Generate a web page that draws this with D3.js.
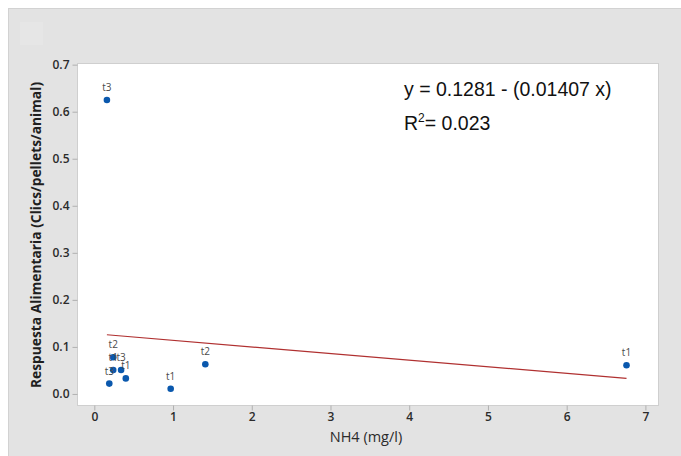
<!DOCTYPE html>
<html>
<head>
<meta charset="utf-8">
<script src="https://cdn.jsdelivr.net/npm/d3@7"></script>
<style>
  html, body { margin: 0; padding: 0; background: #ffffff; }
  svg { display: block; }
</style>
</head>
<body>
<svg id="chart" width="681" height="456"></svg>
<script>
// NH4 concentration vs. feeding response, with fitted regression line
const nh4      = [0.16, 0.24, 0.24, 0.34, 0.19, 0.40, 0.97, 1.41, 6.76];
const response = [0.625, 0.078, 0.051, 0.051, 0.022, 0.033, 0.011, 0.063, 0.061];
const labels   = ["t3", "t2", "t1", "t3", "t3", "t1", "t1", "t2", "t1"];

const xTicks = [0, 1, 2, 3, 4, 5, 6, 7];
const yTicks = [0.0, 0.1, 0.2, 0.3, 0.4, 0.5, 0.6, 0.7];

// regression: y = a - b x
const intercept = 0.1281;
const slope = -0.01407;
const rSquared = 0.023;

const svg = d3.select("#chart");
const W = 681, H = 456;

// outer panel
svg.append("rect").attr("x", 0).attr("y", 0).attr("width", W).attr("height", H).attr("fill", "#ffffff");
svg.append("rect").attr("x", 8.5).attr("y", 8.5).attr("width", W - 8).attr("height", H - 8)
  .attr("fill", "#e3e3e3").attr("stroke", "#d2d2d2").attr("stroke-width", 1);
svg.append("rect").attr("x", 20).attr("y", 22).attr("width", 23).attr("height", 23)
  .attr("fill", "#e6e6e6");

// plot area
const plot = { left: 77, top: 63, right: 658, bottom: 405 };
svg.append("rect")
  .attr("x", plot.left + 0.5).attr("y", plot.top + 0.5)
  .attr("width", plot.right - plot.left).attr("height", plot.bottom - plot.top)
  .attr("fill", "#ffffff").attr("stroke", "#cfcfcf");

const x = d3.scaleLinear().domain([-0.22, 7.16]).range([plot.left, plot.right]);
const y = d3.scaleLinear().domain([-0.0235, 0.7035]).range([plot.bottom, plot.top]);

// axes
const xAxis = d3.axisBottom(x).tickValues(xTicks).tickFormat(d3.format("d")).tickSize(5).tickPadding(2);
const yAxis = d3.axisLeft(y).tickValues(yTicks).tickFormat(d3.format(".1f")).tickSize(5).tickPadding(3);

const gx = svg.append("g").attr("transform", `translate(0,${plot.bottom + 0.5})`).call(xAxis);
const gy = svg.append("g").attr("transform", `translate(${plot.left + 0.5},0)`).call(yAxis);

[gx, gy].forEach(g => {
  g.select(".domain").remove();
  g.selectAll(".tick line").attr("stroke", "#b0b0b0");
  g.selectAll(".tick text")
    .attr("fill", "#2b2b2b")
    .style("font-family", "'Open Sans', 'DejaVu Sans', sans-serif")
    .style("font-size", "12px")
    .style("font-weight", "600");
});

// axis titles
svg.append("text")
  .attr("x", 366).attr("y", 442)
  .attr("text-anchor", "middle")
  .attr("fill", "#2b2b2b")
  .style("font-family", "'Open Sans', 'DejaVu Sans', sans-serif")
  .style("font-size", "14.5px")
  .text("NH4 (mg/l)");

svg.append("text")
  .attr("transform", `translate(41,235) rotate(-90)`)
  .attr("text-anchor", "middle")
  .attr("fill", "#1f1f1f")
  .style("font-family", "'Open Sans', 'DejaVu Sans', sans-serif")
  .style("font-size", "13.8px")
  .style("font-weight", "700")
  .text("Respuesta Alimentaria (Clics/pellets/animal)");

// regression line across the observed NH4 range
const [xmin, xmax] = d3.extent(nh4);
svg.append("line")
  .attr("x1", x(xmin)).attr("y1", y(intercept + slope * xmin))
  .attr("x2", x(xmax)).attr("y2", y(intercept + slope * xmax))
  .attr("stroke", "#b03030").attr("stroke-width", 1.2);

// points
const data = nh4.map((v, i) => ({ x: v, y: response[i], label: labels[i] }));
svg.append("g").selectAll("circle").data(data).join("circle")
  .attr("cx", d => x(d.x)).attr("cy", d => y(d.y)).attr("r", 3.3)
  .attr("fill", "#0a58ad");

svg.append("g").selectAll("text").data(data).join("text")
  .attr("x", d => x(d.x)).attr("y", d => y(d.y) - 9)
  .attr("text-anchor", "middle")
  .attr("fill", "#4a4a4a")
  .style("font-family", "'Open Sans', 'DejaVu Sans', sans-serif")
  .style("font-size", "10px")
  .text(d => d.label);

// regression equation
const eq = svg.append("g").style("font-family", "'Liberation Sans', Arial, sans-serif")
  .style("font-size", "19.5px").attr("fill", "#111111");
eq.append("text").attr("x", 404).attr("y", 96)
  .text(`y = ${intercept} - (${Math.abs(slope)} x)`);
const r2 = eq.append("text").attr("x", 404).attr("y", 130);
r2.append("tspan").text("R");
r2.append("tspan").attr("dy", -8).style("font-size", "12px").text("2");
r2.append("tspan").attr("dy", 8).text(`= ${rSquared.toFixed(3)}`);
</script>
</body>
</html>
